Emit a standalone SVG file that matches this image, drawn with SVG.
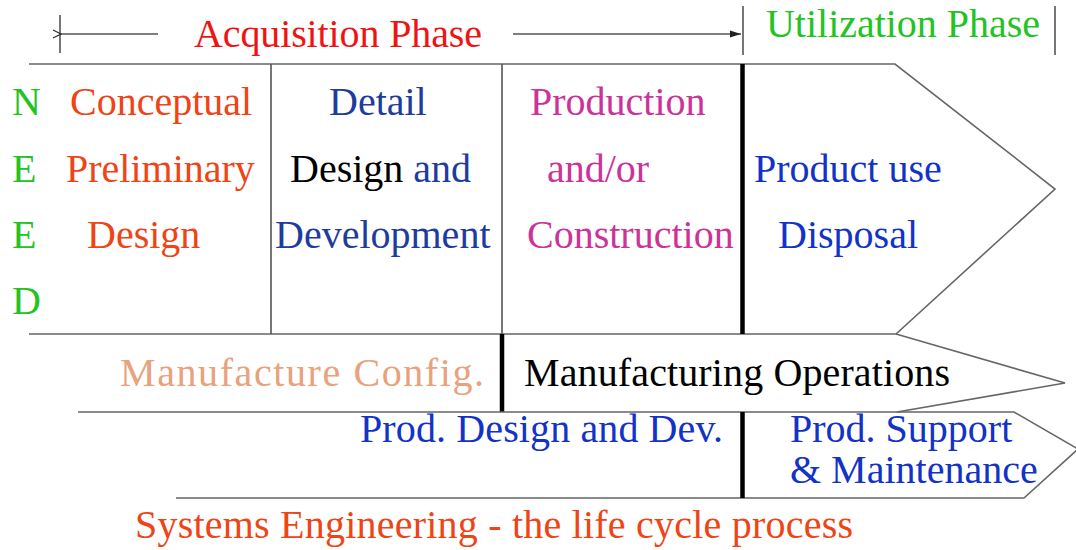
<svg xmlns="http://www.w3.org/2000/svg" width="1076" height="550" viewBox="0 0 1076 550">
  <style>
    text { font-family: "Liberation Serif", "Tinos", "Noto Serif", "FreeSerif", "DejaVu Serif", "Times New Roman", serif; font-size: 40px; }
    .ln { fill: none; stroke: #666; stroke-width: 1.6; }
    .thin { fill: none; stroke: #555; stroke-width: 1.6; }
    .thick { fill: none; stroke: #000; stroke-width: 4.5; }
    .green { fill: #22c322; }
    .orange { fill: #ee4416; }
    .navy { fill: #1e3c9c; }
    .magenta { fill: #cc3399; }
    .blue { fill: #1232c8; }
    .tan { fill: #e8a27c; }
    .red { fill: #ee1414; }
  </style>
  <defs>
    <marker id="openHead" markerWidth="10" markerHeight="10" refX="1" refY="5" orient="auto" markerUnits="userSpaceOnUse">
      <path d="M9,1 L1,5 L9,9" fill="none" stroke="#333" stroke-width="1.3"/>
    </marker>
    <marker id="solidHead" markerWidth="12" markerHeight="10" refX="11" refY="5" orient="auto" markerUnits="userSpaceOnUse">
      <path d="M0,1.5 L11,5 L0,8.5 Z" fill="#222"/>
    </marker>
  </defs>

  <!-- phase span markers and the life-cycle band outlines -->
  <g id="connectors">
    <line class="thin" x1="60" y1="15" x2="60" y2="53"/>
    <line class="thin" x1="743" y1="6" x2="743" y2="55"/>
    <line class="thin" x1="1055" y1="6" x2="1055" y2="55"/>
    <line class="thin" x1="158" y1="34" x2="61" y2="34" marker-end="url(#openHead)"/>
    <line class="thin" x1="513" y1="34" x2="741" y2="34" marker-end="url(#solidHead)"/>

    <!-- band 1: design phases -->
    <polyline class="ln" points="29,64 895,64 1055,189 896,334 29,334"/>
    <line class="thin" x1="271" y1="64" x2="271" y2="334"/>
    <line class="thin" x1="502" y1="64" x2="502" y2="334"/>
    <line class="thick" x1="742.5" y1="64" x2="742.5" y2="334"/>

    <!-- band 2: manufacturing -->
    <polyline class="ln" points="896,334 1065,383 897,412"/>
    <line class="thick" x1="502" y1="334" x2="502" y2="412" stroke-width="3.5"/>

    <!-- band 3: product design / support -->
    <polyline class="ln" points="78,412 1014,412 1078,449 1024,498 176,498"/>
    <line class="thick" x1="742.5" y1="412" x2="742.5" y2="498"/>
  </g>

  <g id="acquisition-phase">
    <text class="red" x="194" y="47" textLength="288" lengthAdjust="spacing">Acquisition Phase</text>
  </g>
  <g id="utilization-phase">
    <text class="green" x="766" y="37" textLength="274" lengthAdjust="spacing">Utilization Phase</text>
  </g>

  <g id="need">
    <text class="green" x="12" y="115">N</text>
    <text class="green" x="12" y="182">E</text>
    <text class="green" x="12" y="248">E</text>
    <text class="green" x="12" y="314">D</text>
  </g>

  <g id="conceptual-design">
    <text class="orange" x="70" y="115">Conceptual</text>
    <text class="orange" x="66" y="182">Preliminary</text>
    <text class="orange" x="87" y="248">Design</text>
  </g>

  <g id="detail-design">
    <text class="navy" x="329" y="115">Detail</text>
    <text x="290" y="182" fill="#000">Design <tspan class="navy">and</tspan></text>
    <text class="navy" x="275" y="248">Development</text>
  </g>

  <g id="production">
    <text class="magenta" x="530" y="115">Production</text>
    <text class="magenta" x="547" y="182">and/or</text>
    <text class="magenta" x="527" y="248">Construction</text>
  </g>

  <g id="product-use">
    <text class="blue" x="754" y="182">Product use</text>
    <text class="blue" x="778" y="248">Disposal</text>
  </g>

  <g id="manufacture-config">
    <text class="tan" x="120" y="386" textLength="364" lengthAdjust="spacing">Manufacture Config.</text>
  </g>
  <g id="manufacturing-operations">
    <text x="524" y="386" fill="#000" textLength="426" lengthAdjust="spacing">Manufacturing Operations</text>
  </g>

  <g id="prod-design-dev">
    <text class="blue" x="360" y="442" textLength="363" lengthAdjust="spacing">Prod. Design and Dev.</text>
  </g>
  <g id="prod-support">
    <text class="blue" x="790" y="442">Prod. Support</text>
    <text class="blue" x="790" y="483">&amp; Maintenance</text>
  </g>

  <g id="title">
    <text class="orange" x="135" y="538" textLength="718" lengthAdjust="spacing">Systems Engineering - the life cycle process</text>
  </g>
</svg>
